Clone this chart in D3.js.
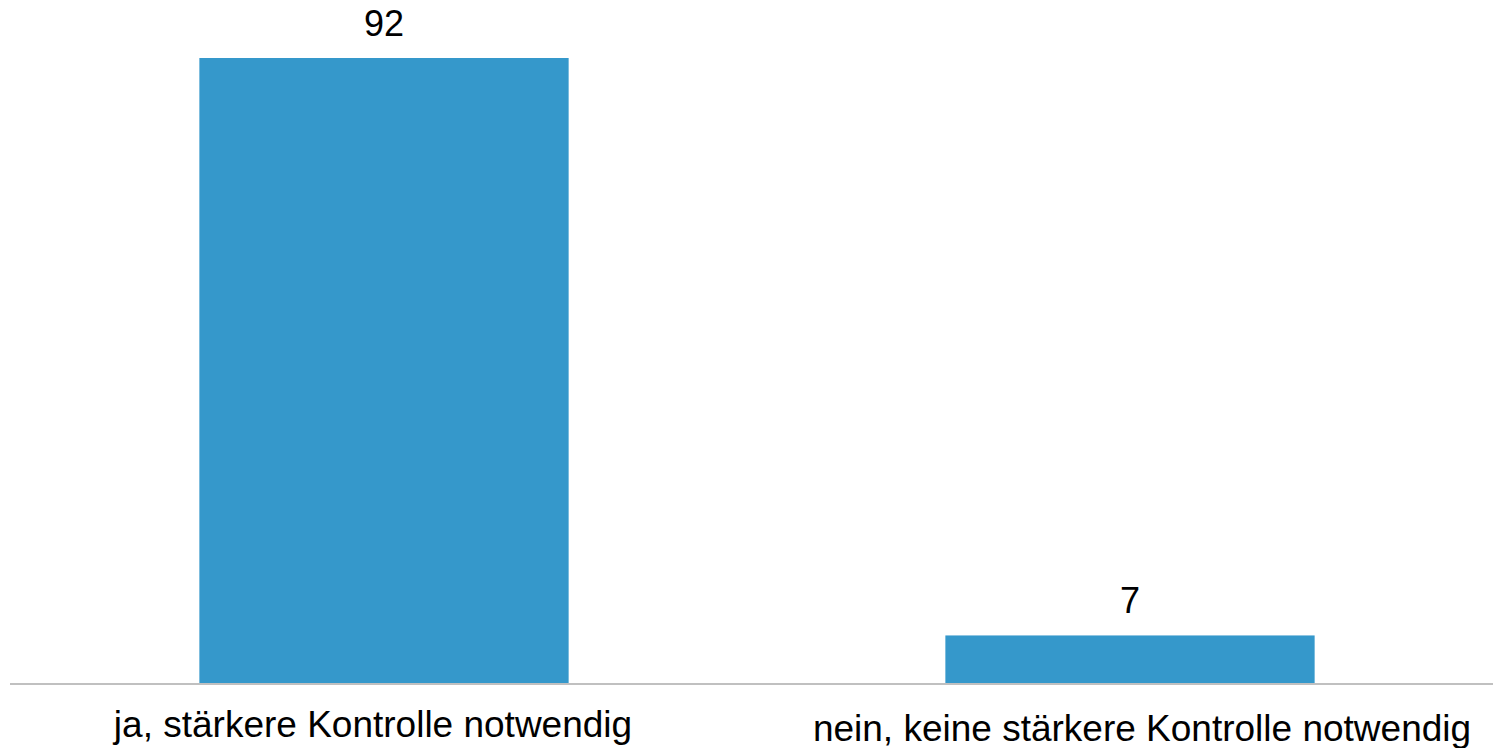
<!DOCTYPE html>
<html>
<head>
<meta charset="utf-8">
<script src="https://cdn.jsdelivr.net/npm/d3@7"></script>
<style>
  html, body { margin: 0; padding: 0; background: #fff; }
  svg { display: block; }
  text { font-family: "Liberation Sans", Arial, sans-serif; fill: #000; }
</style>
</head>
<body>
<svg id="chart" width="1493" height="748"></svg>
<script>
// Survey answers and their shares
const categories = ["ja, stärkere Kontrolle notwendig", "nein, keine stärkere Kontrolle notwendig"];
const values = [92, 7];

const width = 1493, height = 748;
const margin = { top: 58, right: -10, bottom: 65, left: 11 };

const svg = d3.select("#chart");

const x = d3.scaleBand()
  .domain(categories)
  .range([margin.left, width - margin.right])
  .paddingInner(0.505)
  .paddingOuter(0.2525);

const y = d3.scaleLinear()
  .domain([0, 92])
  .range([height - margin.bottom, margin.top]);

const baseY = y(0);

// bars
svg.append("g")
  .selectAll("rect")
  .data(values)
  .join("rect")
  .attr("x", (d, i) => x(categories[i]))
  .attr("y", d => y(d))
  .attr("width", x.bandwidth())
  .attr("height", d => baseY - y(d))
  .attr("fill", "#3598cb");

// value labels above bars
svg.append("g")
  .selectAll("text")
  .data(values)
  .join("text")
  .attr("x", (d, i) => x(categories[i]) + x.bandwidth() / 2)
  .attr("y", d => y(d) - 22)
  .attr("text-anchor", "middle")
  .style("font-size", "36px")
  .text(d => d);

// category axis
const axis = svg.append("g")
  .attr("transform", `translate(0,${baseY})`)
  .call(d3.axisBottom(x).tickSize(0).tickPadding(0));
axis.select(".domain").remove();
axis.append("line")
  .attr("x1", 10).attr("x2", width)
  .attr("y1", 1).attr("y2", 1)
  .attr("stroke", "#c0c0c0")
  .attr("stroke-width", 2);
// the long labels sit a little off their band centres
const labelShift = [-11, 12];
const labelDrop = [54, 58];
axis.selectAll(".tick text")
  .attr("y", 0)
  .attr("x", (d, i) => labelShift[i])
  .attr("dy", (d, i) => labelDrop[i])
  .style("font-size", "37px")
  .style("font-family", "\"Liberation Sans\", Arial, sans-serif")
  .attr("fill", "#000");
</script>
</body>
</html>
